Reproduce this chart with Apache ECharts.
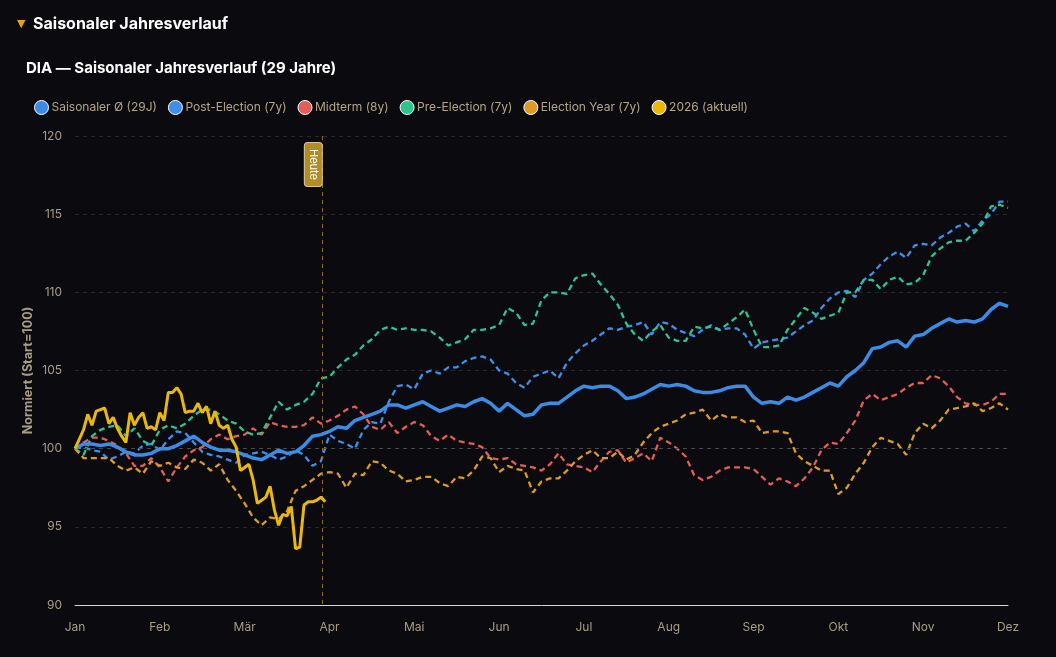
<!DOCTYPE html>
<html>
<head>
<meta charset="utf-8">
<script src="https://cdn.jsdelivr.net/npm/echarts@6/dist/echarts.min.js"></script>
<style>
  html,body{margin:0;padding:0;background:#0b0b0f;}
  #chart{width:1056px;height:657px;}
</style>
</head>
<body>
<div id="chart"></div>
<script>
// Month tick labels (20 trading-day units per month on the x axis)
const months = ['Jan','Feb','Mär','Apr','Mai','Jun','Jul','Aug','Sep','Okt','Nov','Dez'];
const seriesNames = ['Saisonaler Ø (29J)','Post-Election (7y)','Midterm (8y)','Pre-Election (7y)','Election Year (7y)','2026 (aktuell)'];

// Seasonal paths, one value every 2 trading-day units (111 points, Jan..Dez)
const avgAll = [100,100.3,100.3,100.2,100.3,100.1,99.8,99.6,99.6,99.7,
100.0,100.0,100.2,100.5,100.8,100.4,100.1,99.9,99.9,99.8,
99.6,99.4,99.3,99.6,99.9,99.7,99.8,100.2,100.8,100.9,
101.1,101.4,101.3,101.8,102.0,102.2,102.4,102.8,102.8,102.6,
102.8,103.0,102.7,102.4,102.6,102.8,102.7,103.0,103.2,102.9,
102.4,102.9,102.5,102.1,102.2,102.8,102.9,102.9,103.3,103.7,
104.0,103.9,104.0,104.0,103.7,103.2,103.3,103.5,103.8,104.1,
104.0,104.1,104.0,103.7,103.6,103.6,103.7,103.9,104.0,104.0,
103.3,102.9,103.0,102.9,103.3,103.1,103.3,103.6,103.9,104.2,
104.0,104.6,105.0,105.5,106.4,106.5,106.8,106.9,106.5,107.2,
107.3,107.7,108.0,108.3,108.1,108.2,108.1,108.3,108.9,109.3,
109.1];

const postElection = [100,100.1,99.9,99.8,99.3,99.5,99.8,99.7,100.2,100.3,
99.9,100.6,101.1,101.0,100.4,99.8,99.6,99.5,99.3,99.1,
99.6,99.7,99.8,99.6,99.3,99.5,99.9,99.6,98.9,99.2,
100.9,100.5,100.3,100.0,101.2,101.7,101.6,103.0,104.0,104.1,
103.8,104.8,105.0,104.8,105.2,105.2,105.6,105.8,105.9,105.7,
105.0,104.8,104.2,103.9,104.6,104.8,105.0,104.5,105.5,106.1,
106.6,106.9,107.3,107.7,107.6,107.8,107.9,108.1,107.3,108.1,
108.0,107.6,107.4,107.2,107.6,107.9,107.6,107.7,107.7,107.3,
106.4,106.8,106.9,107.0,107.1,107.5,107.9,108.2,109.0,109.6,
110.0,110.1,109.7,110.8,111.2,111.8,112.3,112.6,112.2,113.0,
113.1,113.0,113.5,113.8,114.2,114.4,113.9,114.6,115.0,115.8,
115.8];

const midterm = [100,100.4,100.7,100.7,100.5,100.2,99.7,98.9,98.9,99.4,
98.8,97.9,98.8,99.5,99.9,100.1,100.6,100.9,100.6,100.8,
100.9,101.3,100.9,101.7,101.5,101.4,101.4,101.5,102.0,101.6,
101.8,102.1,102.5,102.7,102.2,101.4,101.2,101.7,101.0,101.4,
101.7,101.5,100.8,100.5,100.9,100.5,100.4,100.3,100.1,99.4,
99.3,99.4,99.0,98.9,98.8,98.6,99.0,99.7,99.0,98.9,
98.8,98.5,99.2,99.8,99.9,99.1,99.4,99.7,99.2,100.7,
100.4,100.0,99.5,98.3,98.0,98.2,98.6,98.8,98.8,98.8,
98.7,98.2,97.7,98.1,97.9,97.6,98.1,98.8,99.9,100.4,
100.3,101.0,101.8,103.1,103.5,103.1,103.3,103.5,103.9,104.2,
104.2,104.7,104.5,104.0,103.3,102.9,102.8,102.8,103.0,103.5,
103.5];

const preElection = [100,99.6,100.8,101.2,101.4,101.5,100.8,101.3,100.5,100.2,
101.2,101.5,101.3,101.6,102.1,102.5,102.5,102.2,101.8,101.6,
101.1,100.9,101.0,102.0,103.0,102.5,102.8,103.0,103.5,104.5,
104.6,105.2,105.7,106.0,106.6,107.0,107.6,107.8,107.6,107.7,
107.6,107.6,107.5,107.1,106.6,106.8,107.0,107.6,107.6,107.7,
107.9,109.0,108.7,107.9,108.0,109.5,110.0,110.0,109.9,110.9,
111.1,111.2,110.5,109.9,109.2,108.0,107.3,106.9,107.5,107.9,
107.1,106.9,106.9,107.8,107.7,107.8,107.6,108.0,108.4,108.9,
107.6,106.5,106.5,106.6,107.6,108.3,109.0,108.7,108.3,108.5,
108.7,110.0,110.0,110.8,110.8,110.2,110.8,111.0,110.5,110.6,
111.1,112.3,112.8,113.2,113.3,113.3,113.8,114.4,115.5,115.6,
115.4];

const electionYear = [100,99.4,99.4,99.4,99.4,98.9,98.6,98.8,98.4,99.2,
98.9,99.1,98.8,98.7,99.3,99.1,98.6,99.0,98.0,97.3,
96.5,95.6,95.1,95.6,95.5,96.0,97.3,97.6,98.0,98.4,
98.5,98.4,97.5,98.4,98.3,99.2,99.1,98.6,98.4,97.9,
98.0,98.2,98.2,97.8,97.6,98.2,98.1,98.6,99.5,99.4,
98.5,98.9,98.7,98.6,97.2,97.9,98.1,98.1,98.6,99.2,
99.6,99.9,99.4,99.4,99.8,99.3,99.6,100.4,101.0,101.4,
101.6,101.8,102.2,102.3,102.5,101.8,102.2,102.0,102.0,101.7,
101.8,101.0,101.1,101.1,101.0,99.7,99.2,98.9,98.6,98.6,
97.1,97.5,98.4,99.1,100.1,100.7,100.5,100.3,99.6,101.0,
101.6,101.3,101.8,102.5,102.6,102.7,102.9,102.4,102.6,102.9,
102.5];

// 2026 so far, one value per trading-day unit
const year2026 = [100.0,100.6,101.2,102.2,101.5,102.4,102.5,102.6,101.6,102.0,
101.3,100.8,100.4,102.3,101.5,102.0,102.3,101.3,101.4,101.2,
102.3,101.8,103.6,103.6,103.9,103.5,102.3,102.4,102.4,102.9,
102.3,102.7,101.6,102.4,101.5,101.3,101.5,100.6,100.1,98.6,
98.8,99.0,98.0,96.5,96.7,96.9,97.6,96.1,95.1,95.8,
95.7,96.3,93.6,93.7,96.4,96.6,96.6,96.7,96.9,96.6];

const todayPos = 58.2;   // "Heute" in trading-day units
const yTicks = {min: 90, max: 120, step: 5};

const colors = ['#3c8ce6','#3f8fea','#e45c5c','#2ec48e','#dd9b22','#e8b90c'];

function pairs(arr, step){ return arr.map((v,i)=>[i*step, v]); }

const dash = [6,4];
function lineSeries(idx, data, step, opts){
  return Object.assign({
    name: seriesNames[idx],
    type: 'line',
    data: pairs(data, step),
    showSymbol: false,
    symbol: 'circle',
    smooth: false,
    itemStyle: {color: colors[idx]},
    lineStyle: {color: colors[idx], width: 2.3, type: dash},
    emphasis: {disabled: true},
    z: 2
  }, opts || {});
}

const chart = echarts.init(document.getElementById('chart'), null, {renderer: 'canvas'});

const option = {
  backgroundColor: '#0b0b0f',
  animation: false,
  textStyle: {fontFamily: 'Inter, "Noto Sans", sans-serif'},
  title: [
    {
      text: '{a|▼}  Saisonaler Jahresverlauf',
      left: 12, top: 11,
      textStyle: {
        color: '#ffffff', fontSize: 16, fontWeight: 'bold', fontFamily: 'Inter, sans-serif',
        rich: {a: {color: '#e3a21c', fontSize: 11, fontFamily: 'DejaVu Sans'}}
      }
    },
    {
      text: 'DIA — Saisonaler Jahresverlauf (29 Jahre)',
      left: 21, top: 56,
      textStyle: {color: '#ffffff', fontSize: 15, fontWeight: 'bold', fontFamily: 'Inter, sans-serif'}
    }
  ],
  legend: {
    left: 29, top: 95,
    icon: 'circle',
    itemWidth: 14, itemHeight: 14,
    itemGap: 11,
    data: seriesNames,
    itemStyle: {borderColor: '#ffffff', borderWidth: 1, borderType: 'solid'},
    textStyle: {color: '#b2a688', fontSize: 12, fontFamily: 'Inter, sans-serif', padding: [0,0,0,-2]},
    selectedMode: false
  },
  grid: {left: 75, right: 48, top: 136, bottom: 52},
  xAxis: {
    type: 'value',
    min: 0, max: 220, interval: 20,
    axisLine: {show: true, lineStyle: {color: '#d8d8d8', width: 1}},
    axisTick: {show: false},
    splitLine: {show: false},
    axisLabel: {
      color: '#a89e86', fontSize: 12, margin: 16,
      formatter: v => months[Math.round(v/20)] || ''
    }
  },
  yAxis: {
    type: 'value',
    min: yTicks.min, max: yTicks.max, interval: yTicks.step,
    name: 'Normiert (Start=100)',
    nameLocation: 'middle',
    nameGap: 40,
    nameMoveOverlap: false,
    nameTextStyle: {color: '#a89e86', fontSize: 12.5, fontWeight: 'bold'},
    axisLine: {show: false},
    axisTick: {show: false},
    axisLabel: {color: '#a89e86', fontSize: 12, margin: 13},
    splitLine: {show: true, lineStyle: {color: '#26262c', type: [4,4], width: 1}}
  },
  series: [
    lineSeries(0, avgAll, 2, {lineStyle: {color: colors[0], width: 3.5, type: 'solid'}, z: 5,
      markLine: {
        silent: true, symbol: 'none',
        lineStyle: {color: '#4a4a4e', type: [4,4], width: 1},
        label: {show: false},
        data: [{yAxis: 100}]
      }}),
    lineSeries(1, postElection, 2),
    lineSeries(2, midterm, 2),
    lineSeries(3, preElection, 2),
    lineSeries(4, electionYear, 2),
    lineSeries(5, year2026, 1, {lineStyle: {color: colors[5], width: 3, type: 'solid'}, z: 6,
      markLine: {
        silent: true, symbol: 'none',
        lineStyle: {color: '#8a6a28', type: [4,4], width: 1},
        label: {
          show: true,
          position: 'insideStartBottom',
          distance: [7, 0],
          formatter: 'Heute',
          color: '#ffffff',
          fontSize: 11,
          fontFamily: 'Inter, sans-serif',
          backgroundColor: '#b38c26',
          borderColor: '#d8c89a',
          borderWidth: 1,
          borderRadius: 3,
          padding: [3, 6]
        },
        data: [[{coord: [todayPos, yTicks.max]}, {coord: [todayPos, yTicks.min]}]]
      }})
  ]
};

chart.setOption(option);
</script>
</body>
</html>
